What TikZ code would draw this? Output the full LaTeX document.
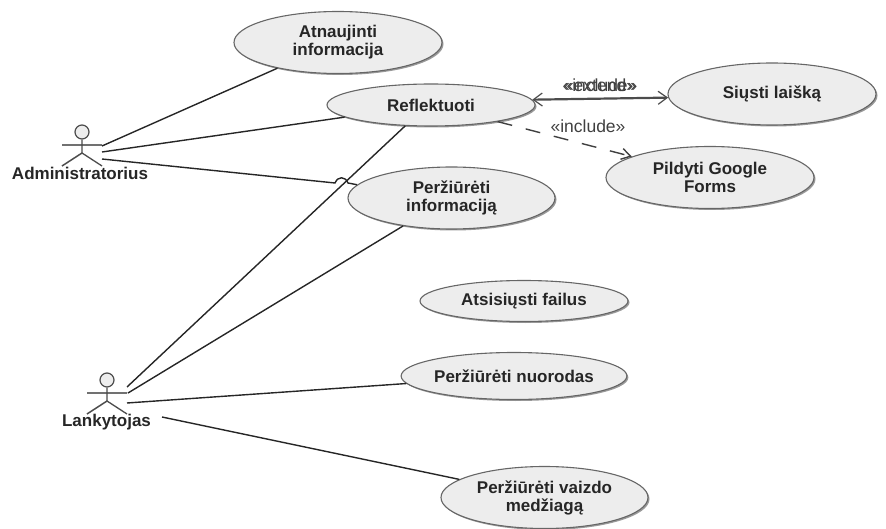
\documentclass[tikz,border=0pt]{standalone}
\usepackage{fontspec}
\setmainfont{Liberation Sans}
\usetikzlibrary{shapes.geometric,arrows.meta,shadows}
\tikzset{
  uc/.style={ellipse,draw=black!60,line width=1.1pt,fill=black!7,inner sep=0pt,align=center,
    font=\bfseries\fontsize{17}{18}\selectfont,text=black!85,
    drop shadow={shadow xshift=1.5pt,shadow yshift=-1.5pt,fill=black!40,opacity=1}},
  actorline/.style={draw=black!70,line width=1.3pt},
  actorshade/.style={draw=black!28,line width=1.6pt,shift={(1.5,1.5)}},
  actorname/.style={font=\bfseries\fontsize{17}{18}\selectfont,text=black!85},
  link/.style={draw=black!85,line width=1.4pt},
  dep/.style={draw=black!75,line width=1.4pt,dash pattern=on 15pt off 14pt,-{Straight Barb[length=9pt,width=11pt]}},
  ext/.style={draw=black!70,line width=2.2pt,{Straight Barb[length=9pt,width=13pt,line width=1.2pt]}-{Straight Barb[length=9pt,width=13pt,line width=1.2pt]}},
  stereo/.style={font=\fontsize{17.5}{18}\selectfont,text=black!75,inner sep=0pt}
}
\begin{document}
\begin{tikzpicture}[x=1pt,y=-1pt]
\useasboundingbox (0,0) rectangle (886,529);
% use cases
\node[uc,minimum width=208pt,minimum height=62pt] (atn) at (338,42.5) {Atnaujinti\\informacija};
\node[uc,minimum width=208pt,minimum height=42pt] (ref) at (431,105) {Reflektuoti};
\node[uc,minimum width=208pt,minimum height=62pt] (siu) at (772,94) {Siųsti laišką};
\node[uc,minimum width=208pt,minimum height=62pt] (pil) at (710,177.5) {Pildyti Google\\Forms};
\node[uc,minimum width=207pt,minimum height=62pt] (per) at (451.5,198) {Peržiūrėti\\informaciją};
\node[uc,minimum width=208pt,minimum height=41pt] (ats) at (524,301) {Atsisiųsti failus};
\node[uc,minimum width=208pt,minimum height=47pt] (nuo) at (514,376) {Peržiūrėti nuorodas};
\node[uc,minimum width=207pt,minimum height=62pt] (vai) at (544.5,497.5) {Peržiūrėti vaizdo\\medžiagą};
% actor Administratorius
\coordinate (aarmL) at (62,145); \coordinate (aarmR) at (102,145);
\coordinate (ahip) at (82,153); \coordinate (alegL) at (62,166); \coordinate (alegR) at (102,166);
\draw[actorshade] (aarmL) -- (aarmR) (alegL) -- (ahip);
\node[circle,draw=black!70,line width=1.2pt,fill=black!7,minimum size=14pt,inner sep=0pt] (ahead) at (82,132) {};
\draw[actorline] (ahead) -- (ahip) (aarmL) -- (aarmR) (alegL) -- (ahip) -- (alegR);
\node[actorname] (aname) at (80,173) {Administratorius};
% actor Lankytojas
\coordinate (larmL) at (87,393); \coordinate (larmR) at (127,393);
\coordinate (lhip) at (107,401); \coordinate (llegL) at (87,414); \coordinate (llegR) at (127,414);
\draw[actorshade] (larmL) -- (larmR) (llegL) -- (lhip);
\node[circle,draw=black!70,line width=1.2pt,fill=black!7,minimum size=14pt,inner sep=0pt] (lhead) at (107,380) {};
\draw[actorline] (lhead) -- (lhip) (larmL) -- (larmR) (llegL) -- (lhip) -- (llegR);
\node[actorname] (lname) at (106.5,422) {Lankytojas};
% ports
\coordinate (a1) at (102,146); \coordinate (a2) at (102,152); \coordinate (a3) at (102,159);
\coordinate (l1) at (127,387); \coordinate (l2) at (128,393); \coordinate (l3) at (127,403); \coordinate (l4) at (162,417);
\coordinate (jA) at (335,183); \coordinate (jB) at (348,183);
\coordinate (jC1) at (338,176); \coordinate (jC2) at (345,176);
% connectors
\draw[link] (a1) -- (atn.203);
\draw[link] (a2) -- (ref.188);
\draw[link] (a3) -- (jA) .. controls (jC1) and (jC2) .. (jB) -- (per.172);
\draw[link] (l1) -- (ref.219.6);
\draw[link] (l2) -- (per.210);
\draw[link] (l3) -- (nuo.184);
\draw[link] (l4) -- (vai.168.3);
\draw[ext] (ref.3.3) -- (siu.182.2);
\draw[dep] (ref.-14) -- (pil.165.3);
% stereotypes
\node[stereo] (s1) at (600,85) {«extend»};
\node[stereo] (s2) at (600,85) {«include»};
\node[stereo] (s3) at (588,126) {«include»};
\end{tikzpicture}
\end{document}
